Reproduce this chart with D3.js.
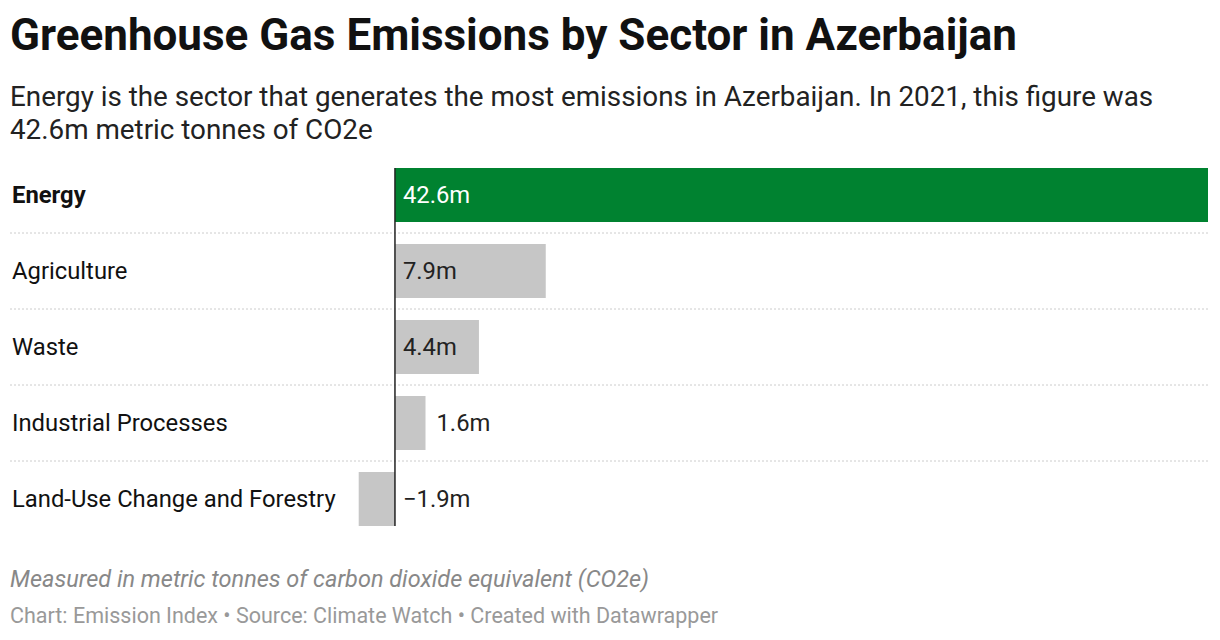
<!DOCTYPE html>
<html><head><meta charset="utf-8">
<script src="https://cdn.jsdelivr.net/npm/d3@7"></script>
<style>body{margin:0;background:#fff;font-family:Roboto,sans-serif}</style>
</head><body><svg id="c" width="1220" height="640"></svg>
<script>
const sectors = ['Energy', 'Agriculture', 'Waste', 'Industrial Processes', 'Land-Use Change and Forestry'];
const values = [42.6, 7.9, 4.4, 1.6, -1.9];
const labels = ['42.6m', '7.9m', '4.4m', '1.6m', '\u22121.9m'];

const svg = d3.select('#c');
svg.append('text').attr('x', 10).attr('y', 50).attr('font-size', 44).attr('font-weight', 700)
  .attr('fill', '#111').text('Greenhouse Gas Emissions by Sector in Azerbaijan');
svg.append('text').attr('x', 10).attr('y', 106).attr('font-size', 27.8).attr('fill', '#222')
  .text('Energy is the sector that generates the most emissions in Azerbaijan. In 2021, this figure was');
svg.append('text').attr('x', 10).attr('y', 139).attr('font-size', 27.8).attr('fill', '#222')
  .text('42.6m metric tonnes of CO2e');

const x = d3.scaleLinear().domain([-1.9, 42.6]).range([358.7, 1208]);
const y = d3.scaleBand().domain(sectors).range([168, 526]).paddingInner(22 / 76).paddingOuter(0);
const step = y.step();

const g = svg.append('g');
sectors.slice(0, -1).forEach(s => {
  const ly = y(s) + y.bandwidth() + (step - y.bandwidth()) / 2;
  g.append('line').attr('x1', 10).attr('x2', 1208).attr('y1', ly).attr('y2', ly)
    .attr('stroke', '#ccc').attr('stroke-dasharray', '2,2');
});
sectors.forEach((s, i) => {
  const v = values[i];
  const bx = Math.min(x(0), x(v)), bw = Math.abs(x(v) - x(0));
  g.append('rect').attr('x', bx).attr('y', y(s)).attr('width', bw).attr('height', y.bandwidth())
    .attr('fill', i === 0 ? '#008230' : '#c6c6c6');
  g.append('text').attr('x', 12).attr('y', y(s) + y.bandwidth() / 2).attr('dy', '0.35em')
    .attr('font-size', 23.8).attr('font-weight', i === 0 ? 700 : 400).attr('fill', '#111').text(s);
  const inside = bw > 70;
  g.append('text').attr('x', v < 0 ? x(0) + 8 : inside ? x(0) + 8 : x(v) + 11)
    .attr('y', y(s) + y.bandwidth() / 2).attr('dy', '0.35em').attr('font-size', 23.8)
    .attr('fill', i === 0 ? '#fff' : '#222').text(labels[i]);
});
g.append('line').attr('x1', x(0)).attr('x2', x(0)).attr('y1', 168).attr('y2', 526)
  .attr('stroke', '#222').attr('stroke-width', 1.5);

svg.append('text').attr('x', 10).attr('y', 587).attr('font-size', 23.5).attr('font-style', 'italic')
  .attr('fill', '#888').text('Measured in metric tonnes of carbon dioxide equivalent (CO2e)');
svg.append('text').attr('x', 10).attr('y', 623).attr('font-size', 21.5).attr('fill', '#999')
  .text('Chart: Emission Index \u2022 Source: Climate Watch \u2022 Created with Datawrapper');
</script></body></html>
